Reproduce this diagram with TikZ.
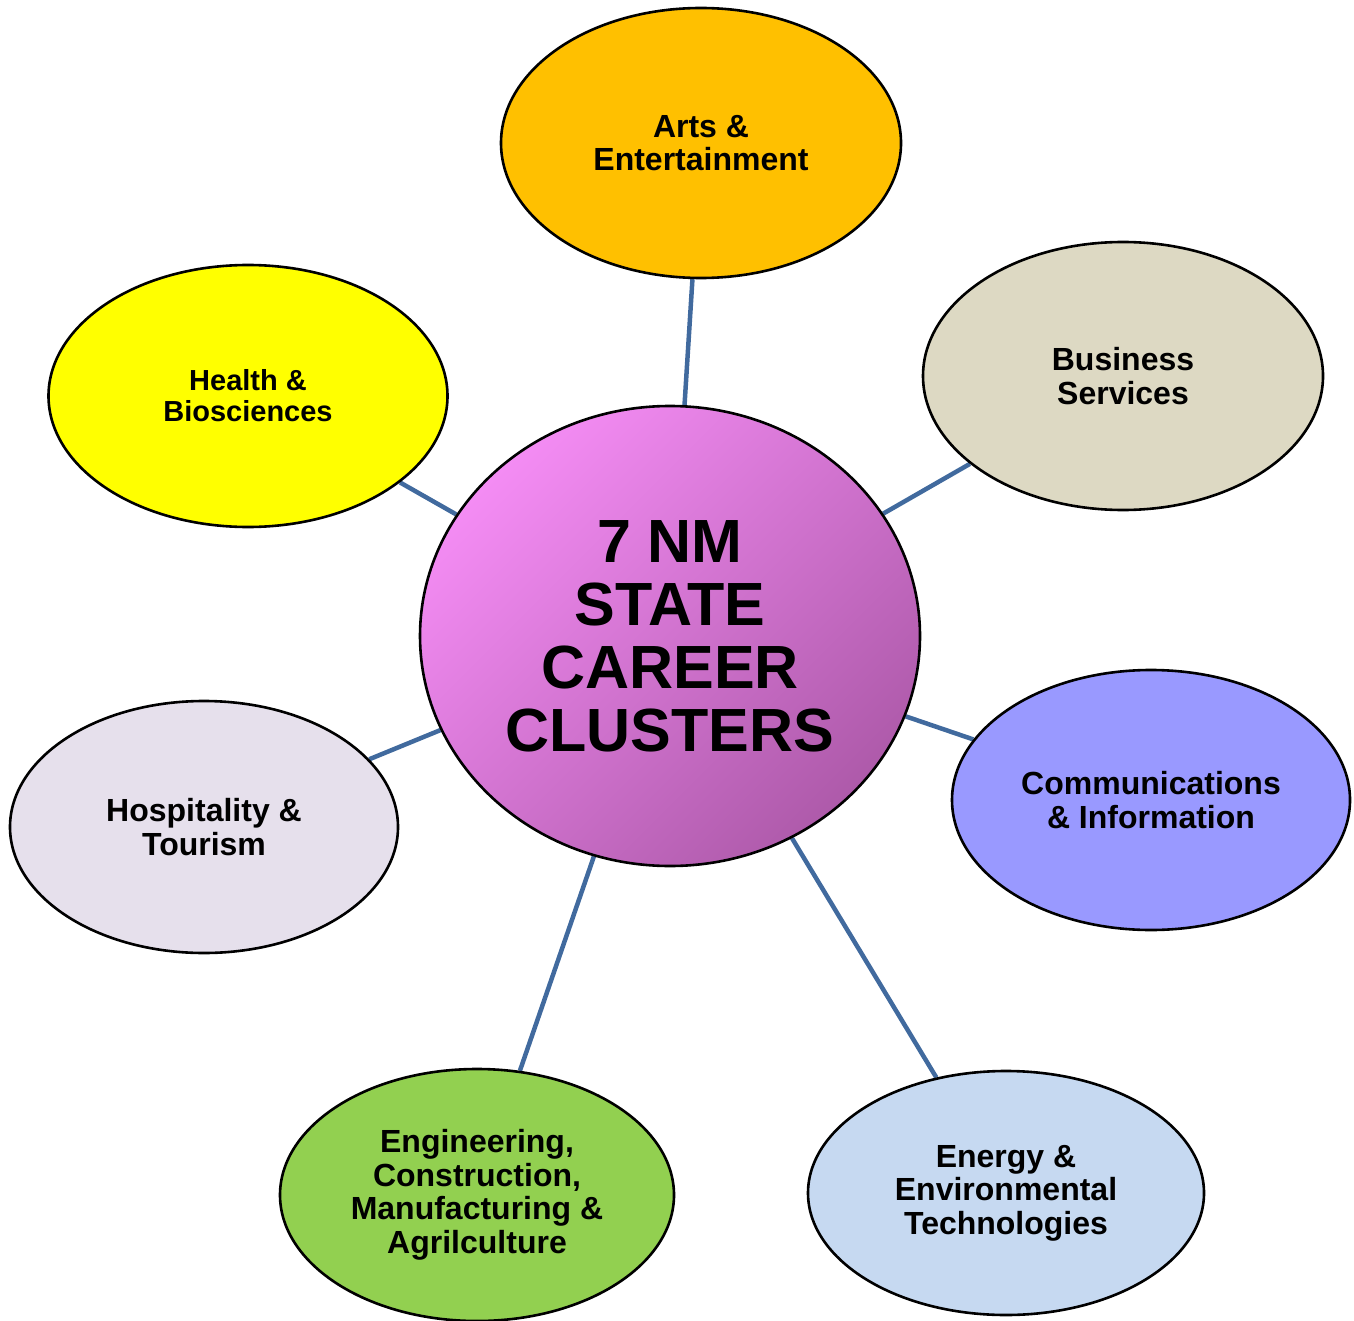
\documentclass[tikz,border=0pt]{standalone}
\usepackage{fontspec}
\setmainfont{Liberation Sans}
\usetikzlibrary{shapes.geometric,backgrounds}
\definecolor{cArts}{HTML}{FFC000}
\definecolor{cHealth}{HTML}{FFFF00}
\definecolor{cBus}{HTML}{DDD9C3}
\definecolor{cComm}{HTML}{9999FF}
\definecolor{cEnergy}{HTML}{C6D9F1}
\definecolor{cEng}{HTML}{92D050}
\definecolor{cHosp}{HTML}{E6E0EC}
\definecolor{cLink}{RGB}{65,106,158}
\definecolor{cTopL}{HTML}{F48CF4}
\definecolor{cBotR}{HTML}{AE5AAA}
\tikzset{
  cluster/.style={ellipse, draw=black, line width=2.6pt, inner sep=0pt, align=center,
    font=\fontsize{32}{33.5}\selectfont\bfseries},
  link/.style={draw=cLink, line width=4.5pt},
}
\begin{document}
\begin{tikzpicture}[x=1pt,y=-1pt]
\useasboundingbox (0,0) rectangle (1354,1321);
\node[ellipse, draw=black, line width=2.6pt, inner sep=0pt, align=center,
  minimum width=500pt, minimum height=460pt,
  top color=cTopL, bottom color=cBotR, shading angle=45,
  font=\fontsize{61}{63}\selectfont\bfseries] (center) at (670,636)
  {7 NM\\STATE\\CAREER\\CLUSTERS};
\node[cluster, fill=cArts, minimum width=400pt, minimum height=270pt] (arts) at (701,143) {Arts \&\\Entertainment};
\node[cluster, fill=cBus, minimum width=400pt, minimum height=268pt] (bus) at (1123,376) {Business\\Services};
\node[cluster, fill=cComm, minimum width=398pt, minimum height=260pt] (comm) at (1151,800) {Communications\\\& Information};
\node[cluster, fill=cEnergy, minimum width=396pt, minimum height=244pt] (energy) at (1006,1193) {Energy \&\\Environmental\\Technologies\rule[-3pt]{0pt}{3pt}};
\node[cluster, fill=cEng, minimum width=394pt, minimum height=252pt] (eng) at (477,1195) {Engineering,\\Construction,\\Manufacturing \&\\Agrilculture\rule[-3pt]{0pt}{3pt}};
\node[cluster, fill=cHosp, minimum width=388pt, minimum height=252pt] (hosp) at (204,827) {Hospitality \&\\Tourism};
\node[cluster, fill=cHealth, minimum width=399pt, minimum height=262pt,
  font=\fontsize{29}{31}\selectfont\bfseries] (health) at (248,396) {Health \&\\Biosciences};
\begin{scope}[on background layer]
\foreach \n in {arts,bus,comm,energy,eng,hosp,health}
  \draw[link] (center) -- (\n);
\end{scope}
\end{tikzpicture}
\end{document}
